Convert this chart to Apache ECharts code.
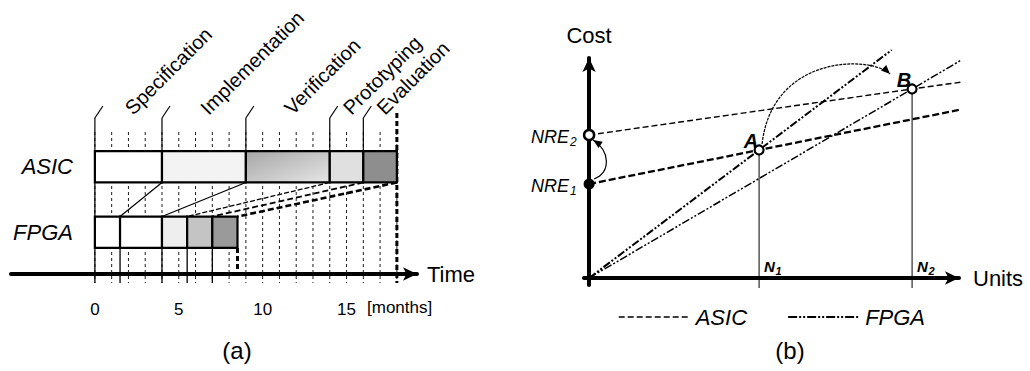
<!DOCTYPE html>
<html>
<head>
<meta charset="utf-8">
<script src="https://cdn.jsdelivr.net/npm/echarts@6/dist/echarts.min.js"></script>
<style>
  html, body { margin: 0; padding: 0; background: #ffffff; }
  #chart { width: 1030px; height: 371px; }
</style>
</head>
<body>
<div id="chart"></div>
<script>
// ---------- (a) development schedule, months ----------
const rows = ['FPGA', 'ASIC'];
const phases = ['Specification', 'Implementation', 'Verification', 'Prototyping', 'Evaluation'];
const asicPhaseEnd = [4, 9, 14, 16, 18];
const fpgaPhaseEnd = [1.5, 4, 5.5, 7, 8.5];
const months = [0, 1, 2, 3, 4, 5, 6, 7, 8, 9, 10, 11, 12, 13, 14, 15, 16, 17, 18];
const monthTickLabels = [0, 5, 10, 15];

// ---------- (b) cost versus number of units ----------
const nreLevels = [9.4, 14.3];          // NRE1, NRE2 on the cost axis
const breakEvenNames = ['A', 'B'];
const breakEvenUnits = [10, 19];        // N1, N2
const breakEvenCost = [12.8, 18.9];
const asicCostNre1 = [[0, 9.4], [10, 12.8], [23.2, 17.3]];
const asicCostNre2 = [[0, 14.3], [19, 18.9], [23.2, 19.9]];
const fpgaCostSteep = [[0, 0], [10, 12.8], [17.8, 22.8]];
const fpgaCostFlat = [[0, 0], [19, 18.9], [22.6, 22.5]];

const FONT = "'Liberation Sans', Arial, Helvetica, sans-serif";
const INK = '#000000';

const chart = echarts.init(document.getElementById('chart'), null, { renderer: 'svg' });

// phase fills
const asicFill = [
  '#ffffff',
  '#f3f3f3',
  new echarts.graphic.LinearGradient(0, 0, 1, 1, [
    { offset: 0, color: '#a6a6a6' },
    { offset: 1, color: '#e6e6e6' }
  ]),
  '#e0e0e0',
  '#8e8e8e'
];
const fpgaFill = ['#ffffff', '#ffffff', '#eeeeee', '#c4c4c4', '#9a9a9a'];

// geometry helpers for the schedule rows
function rowFrame(params, api) {
  const cs = params.coordSys;
  const yAsic = api.coord([0, 1])[1];
  const yFpga = api.coord([0, 0])[1];
  const band = yFpga - yAsic;
  const half = band * 0.24;
  return {
    asicTop: yAsic - half, asicBottom: yAsic + half,
    fpgaTop: yFpga - half, fpgaBottom: yFpga + half,
    axisY: cs.y + cs.height + 9
  };
}

function renderMonthLine(params, api) {
  const f = rowFrame(params, api);
  const x = api.coord([api.value(0), 0])[0];
  return {
    type: 'line',
    shape: { x1: x, y1: f.asicTop - 19, x2: x, y2: f.axisY + 9 },
    style: { stroke: '#1a1a1a', lineWidth: 1, lineDash: [3, 3] }
  };
}

function makePhaseRenderer(rowIndex, fills) {
  return function (params, api) {
    const f = rowFrame(params, api);
    const start = api.value(0), end = api.value(1), idx = api.value(2);
    const x0 = api.coord([start, rowIndex])[0];
    const x1 = api.coord([end, rowIndex])[0];
    const top = rowIndex === 1 ? f.asicTop : f.fpgaTop;
    const bottom = rowIndex === 1 ? f.asicBottom : f.fpgaBottom;
    const children = [];
    children.push({
      type: 'rect',
      shape: { x: x0, y: top, width: x1 - x0, height: bottom - top },
      style: { fill: fills[idx], stroke: INK, lineWidth: 2.2 },
      z2: 5
    });
    if (rowIndex === 1) {
      // phase boundary, slanted leader and rotated phase name
      children.push({
        type: 'line',
        shape: { x1: x0, y1: top - 33, x2: x0, y2: top },
        style: { stroke: INK, lineWidth: 1.2 }
      });
      children.push({
        type: 'line',
        shape: { x1: x0, y1: top - 33, x2: x0 + 8, y2: top - 45 },
        style: { stroke: INK, lineWidth: 1.2 }
      });
      const mid = (x0 + x1) / 2;
      children.push({
        type: 'text',
        x: mid + 7, y: top - 33,
        rotation: Math.PI / 4,
        style: {
          text: phases[idx], fill: INK, fontSize: 20, fontFamily: FONT,
          align: 'left', verticalAlign: 'bottom'
        }
      });
      if (idx === phases.length - 1) {
        children.push({
          type: 'line',
          shape: { x1: x1, y1: top - 38, x2: x1, y2: f.axisY + 9 },
          style: { stroke: INK, lineWidth: 3, lineDash: [5, 3] }
        });
      }
    } else {
      children.push({
        type: 'line',
        shape: { x1: x0, y1: bottom, x2: x0, y2: f.axisY + 9 },
        style: { stroke: INK, lineWidth: 1.3 }
      });
      if (idx === 0) {
        children.push({
          type: 'line',
          shape: { x1: x0, y1: f.asicBottom, x2: x0, y2: top },
          style: { stroke: INK, lineWidth: 1.3 }
        });
      }
      if (idx === phases.length - 1) {
        children.push({
          type: 'line',
          shape: { x1: x1, y1: bottom, x2: x1, y2: f.axisY },
          style: { stroke: INK, lineWidth: 3, lineDash: [5, 3] }
        });
      }
    }
    return { type: 'group', children: children };
  };
}

function renderLink(params, api) {
  const f = rowFrame(params, api);
  const idx = api.value(2);
  const xa = api.coord([api.value(0), 1])[0];
  const xf = api.coord([api.value(1), 0])[0];
  const styles = [
    { stroke: INK, lineWidth: 1.2 },
    { stroke: INK, lineWidth: 1.2 },
    { stroke: INK, lineWidth: 1.3, lineDash: [5, 2] },
    { stroke: INK, lineWidth: 1.8, lineDash: [6, 3] },
    { stroke: INK, lineWidth: 2.6, lineDash: [6, 3] }
  ];
  return {
    type: 'line',
    shape: { x1: xa, y1: f.asicBottom, x2: xf, y2: f.fpgaTop },
    style: styles[idx]
  };
}

const phaseStarts = (ends) => ends.map((e, i) => [i === 0 ? 0 : ends[i - 1], e, i]);

// ---------- (b) annotation renderers ----------
function renderBreakEvenLine(params, api) {
  const u = api.value(0), c = api.value(1), i = api.value(2);
  const p = api.coord([u, c]);
  const p0 = api.coord([u, 0]);
  return {
    type: 'group',
    children: [
      { type: 'line', shape: { x1: p[0], y1: p[1], x2: p0[0], y2: p0[1] + 10 },
        style: { stroke: INK, lineWidth: 1 } },
      { type: 'text', x: p0[0] + 5, y: p0[1] - 12,
        style: { text: 'N', fill: INK, fontSize: 15, fontStyle: 'italic', fontWeight: 'bold',
                 fontFamily: FONT, align: 'left', verticalAlign: 'middle' } },
      { type: 'text', x: p0[0] + 16.5, y: p0[1] - 7,
        style: { text: String(i + 1), fill: INK, fontSize: 11, fontStyle: 'italic', fontWeight: 'bold',
                 fontFamily: FONT, align: 'left', verticalAlign: 'middle' } },
      { type: 'text', x: p[0] - 1, y: p[1] + 1,
        style: { text: breakEvenNames[i], fill: INK, fontSize: 20, fontStyle: 'italic', fontWeight: 'bold',
                 fontFamily: FONT, align: 'right', verticalAlign: 'bottom' } }
    ]
  };
}

function renderNreLabel(params, api) {
  const c = api.value(1), i = api.value(2);
  const p = api.coord([0, c]);
  return {
    type: 'group',
    children: [
      { type: 'text', x: p[0] - 20, y: p[1] + 2,
        style: { text: 'NRE', fill: INK, fontSize: 18, fontStyle: 'italic', fontFamily: FONT,
                 align: 'right', verticalAlign: 'middle' } },
      { type: 'text', x: p[0] - 19, y: p[1] + 7,
        style: { text: String(i + 1), fill: INK, fontSize: 12, fontStyle: 'italic', fontFamily: FONT,
                 align: 'left', verticalAlign: 'middle' } }
    ]
  };
}

function arrowHead(tip, from, len, halfW) {
  const dx = tip[0] - from[0], dy = tip[1] - from[1];
  const d = Math.sqrt(dx * dx + dy * dy) || 1;
  const ux = dx / d, uy = dy / d;
  const bx = tip[0] - ux * len, by = tip[1] - uy * len;
  return {
    type: 'polygon',
    shape: { points: [tip, [bx - uy * halfW, by + ux * halfW], [bx + uy * halfW, by - ux * halfW]] },
    style: { fill: INK }
  };
}

function renderCurvedArrow(params, api) {
  const a = api.coord([api.value(0), api.value(1)]);
  const b = api.coord([api.value(2), api.value(3)]);
  let p1, p2, c1, c2;
  if (params.dataIndex === 0) {
    p1 = [a[0] + 5, a[1] - 5];
    p2 = [b[0] + 4, b[1] + 5];
    c1 = [p1[0] + 17, p1[1] - 7];
    c2 = [p2[0] + 17, p2[1] + 11];
  } else {
    p1 = [a[0] + 3, a[1] - 6];
    p2 = [b[0] - 22, b[1] - 15];
    c1 = [p1[0] + 10, p1[1] - 89];
    c2 = [p2[0] - 20, p2[1] - 19];
  }
  return {
    type: 'group',
    children: [
      { type: 'bezierCurve',
        shape: { x1: p1[0], y1: p1[1], x2: p2[0], y2: p2[1], cpx1: c1[0], cpy1: c1[1], cpx2: c2[0], cpy2: c2[1] },
        style: { stroke: INK, fill: null, lineWidth: 1.2, lineDash: params.dataIndex === 0 ? null : [3, 1] } },
      arrowHead(p2, c2, 9, 3.8)
    ]
  };
}

const option = {
  animation: false,
  backgroundColor: '#ffffff',
  color: [INK],
  textStyle: { fontFamily: FONT, color: INK },
  grid: [
    { left: 11, top: 134, width: 406, height: 131, outerBoundsMode: 'none' },
    { left: 584, top: 58, width: 375, height: 227, outerBoundsMode: 'none' }
  ],
  xAxis: [
    {
      gridIndex: 0, type: 'value', min: -5, max: 19.2, interval: 5, offset: 9,
      axisLine: { show: true, onZero: false, symbol: ['none', 'arrow'], symbolSize: [10, 14],
                  lineStyle: { color: INK, width: 4 } },
      axisTick: { show: false }, splitLine: { show: false },
      axisLabel: {
        fontSize: 17, color: INK, fontFamily: FONT, margin: 27,
        formatter: (v) => (monthTickLabels.indexOf(v) >= 0 ? String(v) : '')
      },
      name: 'Time', nameLocation: 'end', nameGap: 10,
      nameTextStyle: { fontSize: 22, color: INK, fontFamily: FONT, verticalAlign: 'middle' }
    },
    {
      gridIndex: 1, type: 'value', min: -0.3, max: 21.76,
      axisLine: { show: true, onZero: true, symbol: ['none', 'arrow'], symbolSize: [10, 14],
                  lineStyle: { color: INK, width: 4 } },
      axisTick: { show: false }, splitLine: { show: false }, axisLabel: { show: false },
      name: 'Units', nameLocation: 'end', nameGap: 14,
      nameTextStyle: { fontSize: 22, color: INK, fontFamily: FONT, verticalAlign: 'middle' }
    }
  ],
  yAxis: [
    {
      gridIndex: 0, type: 'category', data: rows, offset: -84,
      axisLine: { show: false }, axisTick: { show: false }, splitLine: { show: false },
      axisLabel: { fontSize: 22, fontStyle: 'italic', color: INK, fontFamily: FONT, margin: 22 }
    },
    {
      gridIndex: 1, type: 'value', min: -0.7, max: 22,
      axisLine: { show: true, onZero: true, symbol: ['none', 'arrow'], symbolSize: [10, 14],
                  lineStyle: { color: INK, width: 4 } },
      axisTick: { show: false }, splitLine: { show: false }, axisLabel: { show: false },
      name: 'Cost', nameLocation: 'end', nameGap: 12,
      nameTextStyle: { fontSize: 22, color: INK, fontFamily: FONT, align: 'center' }
    }
  ],
  legend: {
    data: [
      { name: 'ASIC', itemStyle: { opacity: 0, borderWidth: 0 },
        lineStyle: { width: 1.4, type: [6, 3], color: INK } },
      { name: 'FPGA', itemStyle: { opacity: 0, borderWidth: 0 },
        lineStyle: { width: 2.2, type: [9, 2, 2, 2, 2, 2], color: INK } }
    ],
    left: 613, top: 301, itemWidth: 72, itemHeight: 14, itemGap: 40,
    selectedMode: false,
    textStyle: { fontSize: 22, fontStyle: 'italic', color: INK, fontFamily: FONT }
  },
  graphic: [
    { type: 'text', left: 367, top: 299,
      style: { text: '[months]', fontSize: 17, fill: INK, fontFamily: FONT } },
    { type: 'text', x: 237, y: 350,
      style: { text: '(a)', fontSize: 24, fill: INK, fontFamily: FONT, align: 'center', verticalAlign: 'middle' } },
    { type: 'text', x: 790, y: 350,
      style: { text: '(b)', fontSize: 24, fill: INK, fontFamily: FONT, align: 'center', verticalAlign: 'middle' } }
  ],
  series: [
    // (a)
    { name: 'months', type: 'custom', xAxisIndex: 0, yAxisIndex: 0, z: 1, clip: false,
      data: months.map((m) => [m]), renderItem: renderMonthLine, silent: true },
    { name: 'phase links', type: 'custom', xAxisIndex: 0, yAxisIndex: 0, z: 2, clip: false,
      data: asicPhaseEnd.map((e, i) => [e, fpgaPhaseEnd[i], i]), renderItem: renderLink, silent: true },
    { name: 'asic schedule', type: 'custom', xAxisIndex: 0, yAxisIndex: 0, z: 3, clip: false,
      data: phaseStarts(asicPhaseEnd), renderItem: makePhaseRenderer(1, asicFill), silent: true },
    { name: 'fpga schedule', type: 'custom', xAxisIndex: 0, yAxisIndex: 0, z: 3, clip: false,
      data: phaseStarts(fpgaPhaseEnd), renderItem: makePhaseRenderer(0, fpgaFill), silent: true },
    // (b)
    { name: 'ASIC', type: 'line', xAxisIndex: 1, yAxisIndex: 1, data: asicCostNre1, symbol: 'none', clip: false,
      itemStyle: { color: INK },
      lineStyle: { color: INK, width: 2.3, type: [7, 3] }, z: 3, silent: true },
    { name: 'ASIC', type: 'line', xAxisIndex: 1, yAxisIndex: 1, data: asicCostNre2, symbol: 'none', clip: false,
      itemStyle: { color: INK },
      lineStyle: { color: INK, width: 1.4, type: [6, 3] }, z: 3, silent: true },
    { name: 'FPGA', type: 'line', xAxisIndex: 1, yAxisIndex: 1, data: fpgaCostSteep, symbol: 'none', clip: false,
      itemStyle: { color: INK },
      lineStyle: { color: INK, width: 2, type: [8, 2, 2, 2, 2, 2] }, z: 3, silent: true },
    { name: 'FPGA', type: 'line', xAxisIndex: 1, yAxisIndex: 1, data: fpgaCostFlat, symbol: 'none', clip: false,
      itemStyle: { color: INK },
      lineStyle: { color: INK, width: 1.5, type: [8, 2, 2, 2, 2, 2] }, z: 3, silent: true },
    { name: 'break-even', type: 'custom', xAxisIndex: 1, yAxisIndex: 1, z: 2, clip: false, silent: true,
      data: breakEvenUnits.map((u, i) => [u, breakEvenCost[i], i]), renderItem: renderBreakEvenLine },
    { name: 'nre labels', type: 'custom', xAxisIndex: 1, yAxisIndex: 1, z: 4, clip: false, silent: true,
      data: nreLevels.map((c, i) => [0, c, i]), renderItem: renderNreLabel },
    { name: 'shifts', type: 'custom', xAxisIndex: 1, yAxisIndex: 1, z: 4, clip: false, silent: true,
      data: [
        [0, nreLevels[0], 0, nreLevels[1]],
        [breakEvenUnits[0], breakEvenCost[0], breakEvenUnits[1], breakEvenCost[1]]
      ],
      renderItem: renderCurvedArrow },
    { name: 'nre points', type: 'scatter', xAxisIndex: 1, yAxisIndex: 1, z: 6, silent: true,
      data: [
        { value: [0, nreLevels[0]], symbolSize: 11, itemStyle: { color: INK, opacity: 1 } },
        { value: [0, nreLevels[1]], symbolSize: 10,
          itemStyle: { color: '#ffffff', borderColor: INK, borderWidth: 2.5, opacity: 1 } }
      ] },
    { name: 'break-even points', type: 'scatter', xAxisIndex: 1, yAxisIndex: 1, z: 6, silent: true,
      symbolSize: 9, itemStyle: { color: '#ffffff', borderColor: INK, borderWidth: 2.2, opacity: 1 },
      data: breakEvenUnits.map((u, i) => [u, breakEvenCost[i]]) }
  ]
};

chart.setOption(option);
</script>
</body>
</html>
